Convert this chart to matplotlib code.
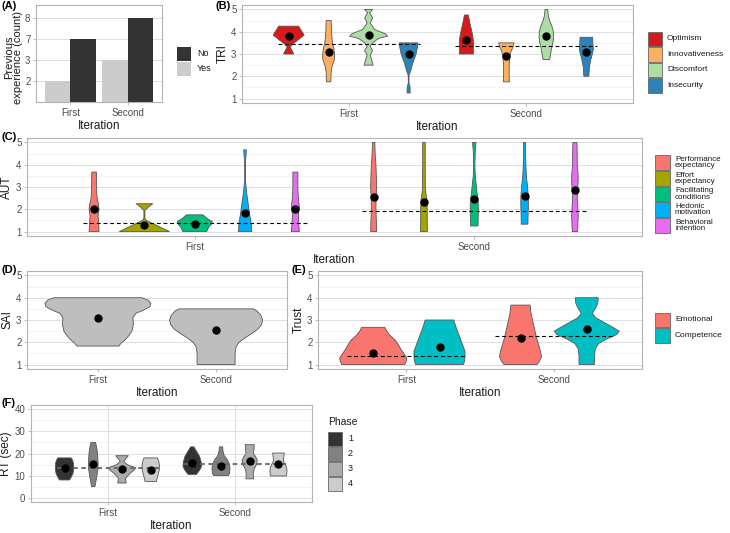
import numpy as np
import matplotlib
matplotlib.use("Agg")
import matplotlib.pyplot as plt
from matplotlib.patches import Rectangle, Polygon

plt.rcParams['font.family'] = ['Liberation Sans', 'DejaVu Sans']

W, H = 730, 533
iterations = ["First", "Second"]

# ---------------- (A) previous experience ----------------
exp_labels = ["No", "Yes"]
exp_yes = [2, 3]
exp_no = [7, 8]
exp_colors = {"No": "#333333", "Yes": "#CCCCCC"}

# ---------------- (B) TRI ----------------
tri_names = ["Optimism", "Innovativeness", "Discomfort", "Insecurity"]
tri_colors = ["#D7191C", "#FDAE61", "#ABDDA4", "#2B83BA"]
tri_first_levels = [
    [4.25, 4.1, 3.85, 3.65, 3.45, 3.3, 3.15, 3.0],
    [4.5, 4.0, 3.5, 3.25, 3.0, 2.75, 2.45, 2.2, 1.75],
    [5.0, 4.85, 4.62, 4.4, 4.1, 3.9, 3.8, 3.7, 3.5, 3.35, 3.15, 2.95, 2.75, 2.5],
    [3.5, 3.3, 3.0, 2.6, 2.4, 2.2, 2.05, 1.7, 1.5, 1.25],
]
tri_first_density = [
    [10, 12, 15.5, 10, 4, 1.5, 3.5, 5],
    [2.5, 2.8, 3.8, 5.2, 6.0, 5.8, 3.5, 2.5, 2.2],
    [4, 1, 4, 1.5, 6, 17, 19, 10, 4, 1.5, 4, 1.5, 3, 4.5],
    [9.3, 8.8, 7.5, 4.2, 3, 1.7, 0.4, 0.3, 1.5, 1.5],
]
tri_second_levels = [
    [4.75, 4.5, 4.2, 3.9, 3.6, 3.3, 3.0],
    [3.5, 3.3, 3.1, 2.9, 2.5, 2.1, 1.75],
    [5.0, 4.7, 4.5, 4.25, 4.0, 3.75, 3.5, 3.2, 2.75],
    [3.75, 3.5, 3.2, 3.0, 2.75, 2.4, 2.0],
]
tri_second_density = [
    [2, 3, 4.5, 6, 7, 7, 7],
    [7.7, 6.5, 4.5, 3.5, 2.8, 2.8, 3],
    [1.3, 2, 3.3, 5.5, 7, 7.3, 6.5, 5, 3.3],
    [6.3, 6.5, 7, 6, 4.5, 3, 2.5],
]
tri_first_mean = [3.83, 3.08, 3.86, 3.02]
tri_second_mean = [3.64, 2.93, 3.79, 3.09]
tri_ref = [3.44, 3.35]

# ---------------- (C) AUT ----------------
aut_names = ["Performance\nexpectancy", "Effort\nexpectancy", "Facilitating\nconditions",
             "Hedonic\nmotivation", "Behavioral\nintention"]
aut_colors = ["#F8766D", "#A3A500", "#00BF7D", "#00B0F6", "#E76BF3"]
aut_first_levels = [
    [3.67, 3.0, 2.5, 2.2, 2.0, 1.7, 1.4, 1.0],
    [2.25, 2.1, 1.95, 1.6, 1.5, 1.3, 1.0],
    [1.75, 1.6, 1.45, 1.35, 1.2, 1.0],
    [4.67, 4.4, 4.2, 3.4, 3.0, 2.6, 2.2, 1.8, 1.4, 1.0],
    [3.67, 3.0, 2.5, 2.1, 1.8, 1.4, 1.0],
]
aut_first_density = [
    [2.3, 2.5, 3, 4.5, 5, 4, 4.5, 5],
    [8.3, 4, 0.5, 0.5, 2, 11, 25],
    [8.3, 12, 17.5, 17, 14, 12],
    [1.3, 1.0, 0.5, 0.3, 1.0, 2, 3.3, 4.5, 6, 6.7],
    [2.5, 2.5, 3, 4, 3, 3.3, 4],
]
aut_second_levels = [
    [5.0, 4.5, 4.0, 3.5, 3.0, 2.5, 2.0, 1.5, 1.0],
    [5.0, 4.0, 3.0, 2.7, 2.4, 2.0, 1.5, 1.0],
    [5.0, 4.6, 4.0, 3.5, 3.0, 2.6, 2.3, 1.8, 1.25],
    [5.0, 4.5, 4.0, 3.5, 3.0, 2.6, 2.2, 1.75, 1.33],
    [5.0, 4.5, 4.0, 3.5, 3.0, 2.5, 2.0, 1.7, 1.0],
]
aut_second_density = [
    [1.2, 1.5, 2.3, 2.7, 3, 2.5, 2.3, 2.7, 3],
    [1.3, 1.3, 1.4, 2, 3, 3.3, 3.3, 3.5],
    [1.7, 1.0, 0.6, 1, 2.2, 3.2, 4, 4, 3.7],
    [1.0, 1.0, 1.3, 1.8, 3, 3.7, 3.8, 3.5, 3.3],
    [2, 2.3, 2.3, 3.3, 3, 2.3, 3, 3.3, 2.7],
]
aut_first_mean = [2.0, 1.31, 1.34, 1.85, 2.0]
aut_second_mean = [2.57, 2.33, 2.45, 2.60, 2.88]
aut_ref = [1.375, 1.91]

# ---------------- (D) SAI ----------------
sai_color = "#BEBEBE"
sai_levels = [
    [4.0, 3.9, 3.75, 3.6, 3.45, 3.3, 3.1, 2.8, 2.5, 2.3, 2.1, 1.95, 1.83],
    [3.5, 3.4, 3.2, 3.0, 2.8, 2.6, 2.4, 2.2, 2.0, 1.8, 1.5, 1.0],
]
sai_density = [
    [44, 50, 53, 52, 46, 38, 35, 35.5, 34, 31, 27, 23, 21],
    [37, 41, 45, 46.5, 45.5, 42, 36, 29, 23, 20, 19, 19],
]
sai_mean = [3.11, 2.54]

# ---------------- (E) Trust ----------------
trust_names = ["Emotional", "Competence"]
trust_colors = ["#F8766D", "#00BFC4"]
trust_first_levels = [
    [2.67, 2.5, 2.3, 2.1, 1.9, 1.7, 1.5, 1.3, 1.15, 1.0],
    [3.0, 2.75, 2.5, 2.2, 1.9, 1.6, 1.35, 1.15, 1.0],
]
trust_first_density = [
    [11.5, 13.5, 17, 22, 25, 27.5, 30.5, 33.5, 33, 31.5],
    [14.3, 16, 18, 20.5, 23, 25.5, 25.5, 25, 24],
]
trust_second_levels = [
    [3.67, 3.3, 3.0, 2.6, 2.2, 1.9, 1.6, 1.35, 1.15, 1.0],
    [4.0, 3.75, 3.55, 3.3, 3.1, 2.9, 2.7, 2.5, 2.35, 2.15, 1.95, 1.7, 1.4, 1.0],
]
trust_second_density = [
    [9.6, 10.5, 12, 14, 16, 18, 20, 21, 19, 16.5],
    [11.5, 11, 9, 5.5, 9, 17, 25, 32.5, 30, 20, 12, 8.5, 7.8, 7.7],
]
trust_first_mean = [1.53, 1.80]
trust_second_mean = [2.21, 2.61]
trust_ref = [1.38, 2.30]

# ---------------- (F) RT ----------------
phase_names = ["1", "2", "3", "4"]
phase_colors = ["#333333", "#818181", "#ABABAB", "#CCCCCC"]
rt_first_levels = [
    [18, 17, 15.5, 13, 11, 9.5, 8],
    [25, 23, 20, 16, 13, 10, 7, 5],
    [19, 18, 16.5, 15, 13.5, 12.5, 11, 10, 8.5, 7.5, 6.6],
    [18, 16.5, 14.5, 12.5, 10.5, 9, 7.3],
]
rt_first_density = [
    [6.7, 8, 9, 9.2, 8.5, 7, 5],
    [2.3, 3.3, 4.3, 4.8, 4.7, 3.7, 2.5, 1.7],
    [6.3, 4.5, 1.8, 5, 14, 12, 8, 6, 3.3, 4, 4.2],
    [6.7, 8, 8.7, 8.5, 7.5, 6.5, 5.7],
]
rt_second_levels = [
    [23, 22, 20.5, 18.5, 16, 14, 12.5, 11, 10.5],
    [23, 21, 19, 17, 15, 13, 11, 10],
    [24, 22, 20, 18.5, 17, 15, 13, 11, 8.5],
    [20.2, 18, 16.5, 15, 13.5, 12, 10.5, 9.8],
]
rt_second_density = [
    [1.7, 3, 5, 7.5, 9, 9.2, 7.5, 5, 4.2],
    [1.7, 2, 3.3, 6.5, 8.5, 9, 8.5, 7.5],
    [4.5, 4.3, 3.7, 6, 7.5, 6.8, 4.5, 3.5, 3.8],
    [5.8, 5.2, 5, 6.8, 8.2, 8.5, 8.3, 8],
]
rt_first_mean = [13.2, 15.4, 12.9, 12.6]
rt_second_mean = [15.8, 14.4, 16.4, 15.1]
rt_ref = [13.3, 15.2]

# =====================================================================
fig = plt.figure(figsize=(W / 100, H / 100), dpi=100)
fig.patch.set_facecolor("white")

TXT = "#1A1A1A"
TICK = "#4D4D4D"
XLIM = (0.4, 2.6)


def add_panel(x0, y0, x1, y1):
    return fig.add_axes([x0 / W, 1 - y1 / H, (x1 - x0) / W, (y1 - y0) / H])


def style(ax, yticks, yminor, ylabel, ylim, xgrid=False, yticklabels=None, yfs=8.5):
    ax.set_facecolor("white")
    for s in ax.spines.values():
        s.set_color("#B3B3B3")
        s.set_linewidth(0.8)
    ax.set_xlim(*XLIM)
    ax.set_ylim(*ylim)
    ax.set_xticks([1, 2])
    ax.set_xticklabels(iterations)
    ax.set_yticks(yticks)
    if yticklabels is not None:
        ax.set_yticklabels(yticklabels)
    ax.set_yticks(yminor, minor=True)
    ax.grid(axis="y", which="major", color="#DEDEDE", lw=0.7)
    ax.grid(axis="y", which="minor", color="#EDEDED", lw=0.45)
    if xgrid:
        ax.grid(axis="x", which="major", color="#DEDEDE", lw=0.7)
    ax.set_axisbelow(True)
    ax.tick_params(which="major", length=2.5, width=0.6, color="#B3B3B3",
                   labelsize=7, labelcolor=TICK, pad=1.5)
    ax.tick_params(which="minor", length=0)
    ax.set_xlabel("Iteration", fontsize=8.5, color=TXT, labelpad=2)
    ax.set_ylabel(ylabel, fontsize=yfs, color=TXT, labelpad=2)


def ppu(ax):
    return ax.get_position().width * W / (XLIM[1] - XLIM[0])


def violin(ax, xc, levels, dens, color, scale, ec="#555555"):
    ys = np.asarray(levels, float)
    hw = np.asarray(dens, float) / scale
    xs = np.concatenate([xc - hw, (xc + hw)[::-1]])
    yy = np.concatenate([ys, ys[::-1]])
    ax.add_patch(Polygon(np.column_stack([xs, yy]), closed=True, facecolor=color,
                         edgecolor=ec, lw=0.6, zorder=2, joinstyle="round"))


def violin_panel(ax, levels_it, dens_it, means_it, colors, refs=None,
                 ref_color="black", ref_lw=0.8, ref_dash=(0, (3.5, 2.5))):
    n = len(colors)
    sc = ppu(ax)
    offs = [(i - (n - 1) / 2) * 0.9 / n for i in range(n)]
    for g in range(2):
        for i in range(n):
            violin(ax, g + 1 + offs[i], levels_it[g][i], dens_it[g][i], colors[i], sc)
        if refs is not None:
            ax.hlines(refs[g], g + 1 - 0.4, g + 1 + 0.4, colors=ref_color,
                      linestyles=ref_dash, lw=ref_lw, zorder=3)
        ax.plot([g + 1 + o for o in offs], means_it[g], "o", color="black",
                ms=5, zorder=4, ls="none")


def legend_keys(x, y_top, kw, kh, colors, labels, fs=6.0, edge=True, tx=None):
    for i, (c, l) in enumerate(zip(colors, labels)):
        yk = y_top + i * kh
        fig.add_artist(Rectangle((x / W, 1 - (yk + kh - 0.5) / H), kw / W, (kh - 1) / H,
                                 transform=fig.transFigure, facecolor=c,
                                 edgecolor="#666666" if edge else c, lw=0.6 if edge else 0))
        fig.text(((tx if tx else x + kw + 5)) / W, 1 - (yk + kh / 2) / H, l, fontsize=fs,
                 va="center", ha="left", color=TXT, linespacing=0.85)


def tag(x, y, s):
    fig.text(x / W, 1 - y / H, s, fontsize=8, fontweight="bold", va="top", ha="left", color="black")


# ---------------- (A) ----------------
axA = add_panel(36, 5, 162, 102)
levels_A = sorted(set(exp_yes + exp_no))
styleA_ticks = list(range(1, len(levels_A) + 1))
style(axA, styleA_ticks, [], "Previous\nexperience (count)", (0, len(levels_A) + 0.6),
      yticklabels=[str(v) for v in levels_A], yfs=8)
xA = np.arange(1, 3)
axA.bar(xA - 0.225, [levels_A.index(v) + 1 for v in exp_yes], width=0.45,
        color=exp_colors["Yes"], zorder=2)
axA.bar(xA + 0.225, [levels_A.index(v) + 1 for v in exp_no], width=0.45,
        color=exp_colors["No"], zorder=2)
axA.yaxis.label.set_linespacing(0.95)
axA.yaxis.set_label_coords(-0.1, 0.46)
legend_keys(177, 46, 14, 15, [exp_colors[k] for k in exp_labels], exp_labels, fs=6.5,
            edge=False, tx=197)
tag(2, 1, "(A)")

# ---------------- (B) ----------------
axB = add_panel(242, 5, 633, 103)
style(axB, [1, 2, 3, 4, 5], [1.5, 2.5, 3.5, 4.5], "TRI", (0.8, 5.2))
violin_panel(axB, [tri_first_levels, tri_second_levels],
             [tri_first_density, tri_second_density],
             [tri_first_mean, tri_second_mean], tri_colors, refs=tri_ref)
legend_keys(648, 31, 14, 15.5, tri_colors, tri_names, fs=6.0, tx=667)
tag(216, 1, "(B)")

# ---------------- (C) ----------------
axC = add_panel(27, 138, 642, 236)
style(axC, [1, 2, 3, 4, 5], [1.5, 2.5, 3.5, 4.5], "AUT", (0.8, 5.2))
violin_panel(axC, [aut_first_levels, aut_second_levels],
             [aut_first_density, aut_second_density],
             [aut_first_mean, aut_second_mean], aut_colors, refs=aut_ref)
legend_keys(655, 155, 15, 15.6, aut_colors, aut_names, fs=5.8, tx=675)
tag(2, 132, "(C)")

# ---------------- (D) ----------------
axD = add_panel(27, 271, 287, 369)
style(axD, [1, 2, 3, 4, 5], [1.5, 2.5, 3.5, 4.5], "SAI", (0.8, 5.2))
scD = ppu(axD)
for g in range(2):
    violin(axD, g + 1, sai_levels[g], sai_density[g], sai_color, scD)
axD.plot([1, 2], sai_mean, "o", color="black", ms=5, zorder=4, ls="none")
tag(2, 265, "(D)")

# ---------------- (E) ----------------
axE = add_panel(318, 271, 642, 369)
style(axE, [1, 2, 3, 4, 5], [1.5, 2.5, 3.5, 4.5], "Trust", (0.8, 5.2))
violin_panel(axE, [trust_first_levels, trust_second_levels],
             [trust_first_density, trust_second_density],
             [trust_first_mean, trust_second_mean], trust_colors, refs=trust_ref)
legend_keys(655, 312, 15, 15.5, trust_colors, trust_names, fs=6.0, tx=675)
tag(291, 265, "(E)")

# ---------------- (F) ----------------
axF = add_panel(31, 405, 312, 502)
style(axF, [0, 10, 20, 30, 40], [5, 15, 25, 35], "RT (sec)", (-2, 42), xgrid=True)
violin_panel(axF, [rt_first_levels, rt_second_levels],
             [rt_first_density, rt_second_density],
             [rt_first_mean, rt_second_mean], phase_colors, refs=rt_ref,
             ref_color="#666666", ref_lw=1.3, ref_dash=(0, (2.5, 2)))
fig.text(328 / W, 1 - 422 / H, "Phase", fontsize=7.5, va="center", ha="left", color=TXT)
legend_keys(328, 431, 14, 15, phase_colors, phase_names, fs=6.5, tx=348)
tag(2, 398, "(F)")

fig.savefig("out.png", dpi=100, facecolor="white")
